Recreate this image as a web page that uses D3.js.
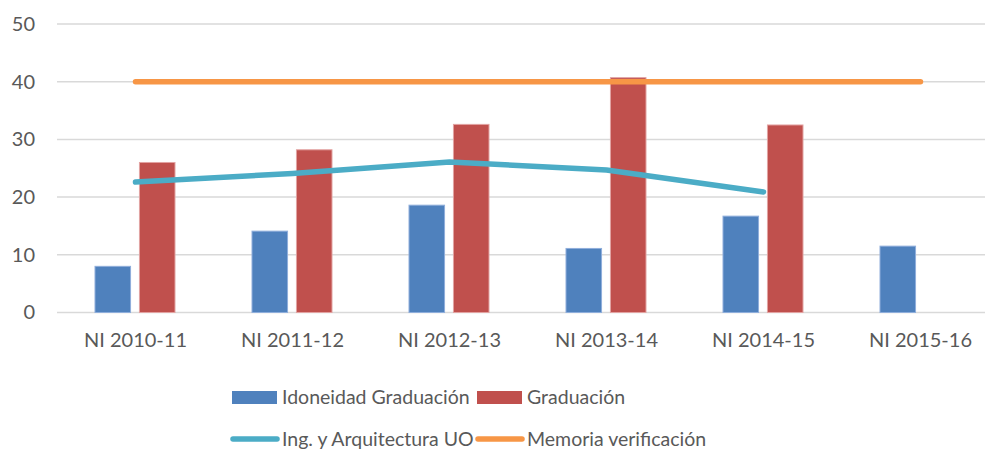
<!DOCTYPE html>
<html>
<head>
<meta charset="utf-8">
<script src="https://cdn.jsdelivr.net/npm/d3@7"></script>
<style>
  body { margin: 0; background: white; }
  svg { display: block; font-family: Lato, "Liberation Sans", sans-serif; }
</style>
</head>
<body>
<svg width="985" height="451"></svg>
<script>
// === Data

const CATEGORIES = ['NI 2010-11', 'NI 2011-12', 'NI 2012-13', 'NI 2013-14', 'NI 2014-15', 'NI 2015-16'];
const IDONEIDAD = [8, 14.1, 18.6, 11.1, 16.7, 11.5];
const GRADUACION = [26, 28.2, 32.6, 40.7, 32.5, null];
const ING_ARQ = [22.6, 24.1, 26.1, 24.7, 20.9, null];
const MEMORIA = [40, 40, 40, 40, 40, 40];
const Y_TICKS = [0, 10, 20, 30, 40, 50];

// === Config

const PLOT = { left: 57, right: 999, top: 24, bottom: 312.5 };
const COLORS = { idon: '#4F81BD', grad: '#C0504D', ing: '#4BACC6', mem: '#F79646' };
const TEXT_COLOR = '#595959';
const GRID_COLOR = '#D9D9D9';

const svg = d3.select('svg');

const x = d3.scaleBand()
  .domain(CATEGORIES)
  .range([PLOT.left, PLOT.right])
  .paddingInner(0)
  .paddingOuter(0);

const xInner = d3.scaleBand()
  .domain(['idon', 'grad'])
  .range([38, 118])
  .paddingInner(0.2);

const y = d3.scaleLinear()
  .domain([0, 50])
  .range([PLOT.bottom, PLOT.top]);

// gridlines
svg.append('g')
  .attr('class', 'grid')
  .selectAll('line')
  .data(Y_TICKS)
  .enter()
  .append('line')
  .attr('x1', PLOT.left)
  .attr('x2', PLOT.right)
  .attr('y1', d => y(d))
  .attr('y2', d => y(d))
  .attr('stroke', GRID_COLOR)
  .attr('stroke-width', 1.5);

// y axis labels
const yAxis = d3.axisLeft(y).tickValues(Y_TICKS).tickSize(0).tickPadding(0);
svg.append('g')
  .attr('transform', 'translate(35,0)')
  .call(yAxis)
  .call(g => g.select('.domain').remove())
  .call(g => g.selectAll('text')
    .attr('fill', TEXT_COLOR)
    .style('font-size', '20px')
    .style('font-family', 'Lato, "Liberation Sans", sans-serif'));

// x axis labels
const xAxis = d3.axisBottom(x).tickSize(0).tickPadding(0);
svg.append('g')
  .attr('transform', 'translate(0,333)')
  .call(xAxis)
  .call(g => g.select('.domain').remove())
  .call(g => g.selectAll('text')
    .attr('fill', TEXT_COLOR)
    .style('font-size', '20px')
    .style('font-family', 'Lato, "Liberation Sans", sans-serif'));

// bars
const barData = [];
CATEGORIES.forEach((c, i) => {
  if (IDONEIDAD[i] != null) barData.push({ cat: c, key: 'idon', value: IDONEIDAD[i] });
  if (GRADUACION[i] != null) barData.push({ cat: c, key: 'grad', value: GRADUACION[i] });
});

svg.append('g')
  .attr('class', 'bars')
  .selectAll('rect')
  .data(barData)
  .enter()
  .append('rect')
  .attr('x', d => x(d.cat) + xInner(d.key))
  .attr('width', xInner.bandwidth())
  .attr('y', d => y(d.value))
  .attr('height', d => y(0) - y(d.value))
  .attr('fill', d => COLORS[d.key])
  .attr('stroke', d => d.key === 'idon' ? '#8FAEDB' : '#E2A3A2')
  .attr('stroke-width', 1);

// lines
const lineGen = d3.line()
  .defined(d => d.value != null)
  .x(d => x(d.cat) + x.bandwidth() / 2)
  .y(d => y(d.value));

function drawLine(values, color) {
  const pts = CATEGORIES.map((c, i) => ({ cat: c, value: values[i] }));
  svg.append('path')
    .datum(pts)
    .attr('d', lineGen)
    .attr('fill', 'none')
    .attr('stroke', color)
    .attr('stroke-width', 5.5)
    .attr('stroke-linecap', 'round')
    .attr('stroke-linejoin', 'round');
}
drawLine(ING_ARQ, COLORS.ing);
drawLine(MEMORIA, COLORS.mem);

// legend
const legend = svg.append('g').attr('class', 'legend')
  .style('font-size', '19.5px')
  .attr('fill', TEXT_COLOR);

const LEGEND_ITEMS = [
  { label: 'Idoneidad Graduación', key: 'idon', type: 'rect', x: 232, y: 397 },
  { label: 'Graduación', key: 'grad', type: 'rect', x: 477, y: 397 },
  { label: 'Ing. y Arquitectura UO', key: 'ing', type: 'line', x: 232, y: 439 },
  { label: 'Memoria verificación', key: 'mem', type: 'line', x: 477, y: 439 }
];

LEGEND_ITEMS.forEach(item => {
  const g = legend.append('g').attr('transform', `translate(${item.x},${item.y})`);
  if (item.type === 'rect') {
    g.append('rect')
      .attr('x', 0).attr('y', -6)
      .attr('width', 45).attr('height', 13)
      .attr('fill', COLORS[item.key]);
  } else {
    g.append('line')
      .attr('x1', 1).attr('x2', 45)
      .attr('y1', 0).attr('y2', 0)
      .attr('stroke', COLORS[item.key])
      .attr('stroke-width', 5.5)
      .attr('stroke-linecap', 'round');
  }
  g.append('text')
    .attr('x', 50)
    .attr('y', 0)
    .attr('dy', '0.35em')
    .text(item.label);
});
</script>
</body>
</html>
